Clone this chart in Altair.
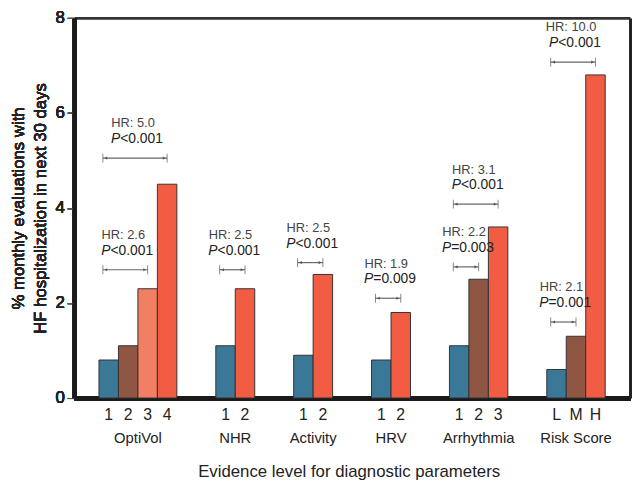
import altair as alt
import pandas as pd

groups = ["OptiVol", "NHR", "Activity", "HRV", "Arrhythmia", "Risk Score"]
levels = [["1", "2", "3", "4"], ["1", "2"], ["1", "2"], ["1", "2"], ["1", "2", "3"], ["L", "M", "H"]]
values = [[0.8, 1.1, 2.3, 4.5], [1.1, 2.3], [0.9, 2.6], [0.8, 1.8], [1.1, 2.5, 3.6], [0.6, 1.3, 6.8]]
tones = [["blue", "brown", "salmon", "red"], ["blue", "red"], ["blue", "red"], ["blue", "red"],
         ["blue", "brown", "red"], ["blue", "brown", "red"]]
palette = {"blue": "#3b7898", "brown": "#8e5643", "salmon": "#f17f63", "red": "#f25c43"}

ann_group = ["OptiVol", "OptiVol", "NHR", "Activity", "HRV", "Arrhythmia", "Arrhythmia", "Risk Score", "Risk Score"]
ann_hr = ["2.6", "5.0", "2.5", "2.5", "1.9", "2.2", "3.1", "2.1", "10.0"]
ann_p = ["<0.001", "<0.001", "<0.001", "<0.001", "=0.009", "=0.003", "<0.001", "=0.001", "<0.001"]
ann_from = [0, 0, 0, 0, 0, 0, 0, 0, 0]
ann_to = [2, 3, 1, 1, 1, 1, 2, 1, 2]
ann_y = [2.7, 5.05, 2.7, 2.85, 2.1, 2.76, 4.08, 1.6, 7.07]

# layout in slot units
bar_rows, group_rows, starts = [], [], {}
pos = 0
for g, lv, vals, tn in zip(groups, levels, values, tones):
    starts[g] = pos
    for i, (l, v, t) in enumerate(zip(lv, vals, tn)):
        c = pos + i
        bar_rows.append({"group": g, "level": l, "value": v, "tone": t,
                         "c": c, "x0": c - 0.5, "x1": c + 0.5})
    group_rows.append({"group": g, "c": pos + (len(lv) - 1) / 2})
    pos += len(lv) + 2

ann_rows = []
for g, hr, p, a, b, y in zip(ann_group, ann_hr, ann_p, ann_from, ann_to, ann_y):
    xs = starts[g] + a - 0.3
    xe = starts[g] + b
    ann_rows.append({"xs": xs, "xe": xe, "xm": (xs + xe) / 2 - 0.1, "y": y,
                     "hr": "HR: " + hr, "p": p})

bars_df = pd.DataFrame(bar_rows)
grp_df = pd.DataFrame(group_rows)
ann_df = pd.DataFrame(ann_rows)

XMIN, XMAX = -1.775, 26.775
W, H = 563, 385
xscale = alt.Scale(domain=[XMIN, XMAX], nice=False, zero=False)
yscale = alt.Scale(domain=[0, 8], nice=False)

frame_kw = dict(labels=False, ticks=False, title=None, grid=False, domain=True)
AX_BOTTOM = alt.Axis(orient="bottom", domainWidth=4, domainColor="#1a1a1a", **frame_kw)
AX_LEFT = alt.Axis(orient="left", values=[0, 2, 4, 6, 8], tickSize=7, tickColor="#555555",
                   domain=True, domainWidth=4, domainColor="#1a1a1a",
                   grid=False, labelFontSize=17, labelColor="#222222", labelPadding=3,
                   title=["% monthly evaluations with", "HF hospitalization in next 30 days"],
                   titleFontSize=17, titleFontWeight="normal", titleColor="#222222",
                   titlePadding=6, titleLineHeight=22)
AX_TOP = alt.Axis(orient="top", domainWidth=3, domainColor="#333333", **frame_kw)
AX_RIGHT = alt.Axis(orient="right", domainWidth=3, domainColor="#222222", **frame_kw)


def X(field):
    return alt.X(field, scale=xscale, axis=AX_BOTTOM)


def Y(field):
    return alt.Y(field, scale=yscale, axis=AX_LEFT)


bars = alt.Chart(bars_df).mark_bar(stroke="#333333", strokeWidth=1).encode(
    x=X("x0:Q"),
    x2="x1:Q",
    y=Y("value:Q"),
    y2=alt.datum(0),
    color=alt.Color("tone:N", scale=alt.Scale(domain=list(palette.keys()), range=list(palette.values())),
                    legend=None),
)

rule = alt.Chart(ann_df).mark_rule(color="#666666", strokeWidth=1.2).encode(
    x=alt.X("xs:Q", scale=xscale, axis=AX_TOP),
    x2="xe:Q",
    y=alt.Y("y:Q", scale=yscale, axis=AX_RIGHT))

lvl_text = alt.Chart(bars_df).mark_text(fontSize=16, color="#222222", baseline="middle").encode(
    x=X("c:Q"), y=alt.value(H + 17), text="level:N")

grp_text = alt.Chart(grp_df).mark_text(fontSize=15, color="#222222", baseline="middle").encode(
    x=X("c:Q"), y=alt.value(H + 41), text="group:N")

xtitle = alt.Chart(pd.DataFrame({"t": ["Evidence level for diagnostic parameters"]})).mark_text(
    fontSize=17, color="#222222", baseline="middle").encode(
    x=alt.value(W / 2 - 3), y=alt.value(H + 75), text="t:N")

cap_l = alt.Chart(ann_df).mark_tick(orient="vertical", color="#555555", thickness=1, size=9).encode(
    x=X("xs:Q"), y=Y("y:Q"))
cap_r = alt.Chart(ann_df).mark_tick(orient="vertical", color="#555555", thickness=1, size=9).encode(
    x=X("xe:Q"), y=Y("y:Q"))
arr_l = alt.Chart(ann_df).mark_point(shape="triangle-left", filled=True, color="#555555", size=10,
                                     opacity=1, xOffset=3).encode(x=X("xs:Q"), y=Y("y:Q"))
arr_r = alt.Chart(ann_df).mark_point(shape="triangle-right", filled=True, color="#555555", size=10,
                                     opacity=1, xOffset=-3).encode(x=X("xe:Q"), y=Y("y:Q"))

hr_text = alt.Chart(ann_df).mark_text(fontSize=13, color="#444444", dy=-35, baseline="middle").encode(
    x=X("xm:Q"), y=Y("y:Q"), text="hr:N")
p_it = alt.Chart(ann_df).mark_text(fontSize=14, color="#222222", dy=-19, dx=-13, align="right",
                                   fontStyle="italic", baseline="middle").encode(
    x=X("xm:Q"), y=Y("y:Q"), text=alt.value("P"))
p_rest = alt.Chart(ann_df).mark_text(fontSize=14, color="#222222", dy=-19, dx=-13, align="left",
                                     baseline="middle").encode(
    x=X("xm:Q"), y=Y("y:Q"), text="p:N")

chart = alt.layer(bars, rule, cap_l, cap_r, arr_l, arr_r, hr_text, p_it, p_rest,
                  lvl_text, grp_text, xtitle).properties(
    width=W, height=H,
    autosize=alt.AutoSizeParams(type="none"),
    padding={"left": 67, "top": 7, "right": 2, "bottom": 80},
).configure(font="Liberation Sans", view=alt.ViewConfig(stroke=None))

chart.save("out.html", embed_options={"renderer": "svg", "actions": False})
